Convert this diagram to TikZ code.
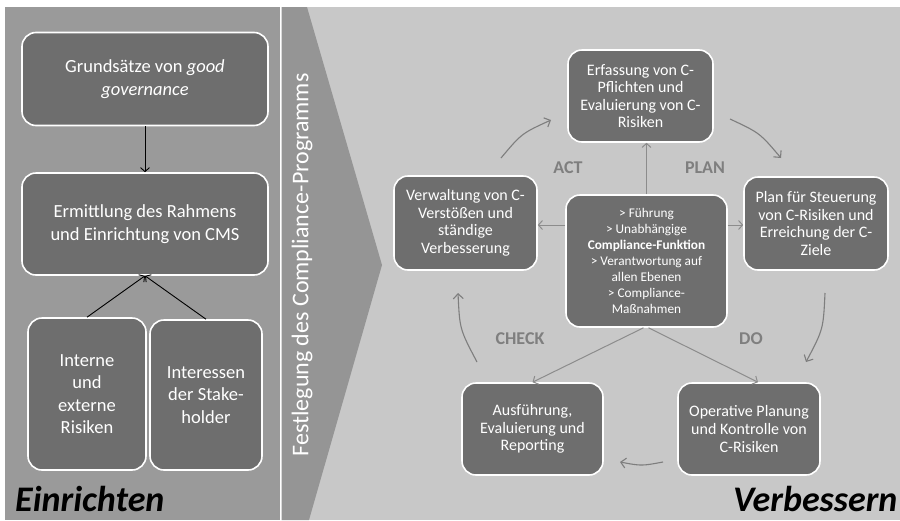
\documentclass[tikz,border=0pt]{standalone}
\usepackage{fontspec}
\setmainfont{Carlito}
\usetikzlibrary{arrows.meta}
\definecolor{panelgray}{HTML}{9A9A9A}
\definecolor{chevgray}{HTML}{959595}
\definecolor{bggray}{HTML}{C8C8C8}
\definecolor{boxgray}{HTML}{6E6E6E}
\definecolor{linkgray}{HTML}{8C8C8C}
\definecolor{cyclegray}{HTML}{7E7E7E}
\definecolor{labelgray}{HTML}{7F7F7F}
\tikzset{
  box/.style={draw=white, line width=1.6pt, fill=boxgray, rounded corners=14pt,
    text=white, align=center, inner sep=0pt},
  bigtxt/.style={font=\fontsize{18.5}{22.5}\selectfont},
  midtxt/.style={font=\fontsize{16}{17.6}\selectfont},
  smalltxt/.style={font=\fontsize{13.3}{16}\selectfont},
  blackarrow/.style={draw=black, line width=0.9pt, -{Straight Barb[length=4pt,width=9pt]}},
  linkarrow/.style={draw=linkgray, line width=1pt, -{Straight Barb[length=4pt,width=9pt]}},
  cyclearrow/.style={draw=cyclegray, line width=1.1pt, -{Straight Barb[length=5pt,width=10pt]}},
  pdcalabel/.style={text=labelgray, font=\fontsize{18}{20}\selectfont\bfseries},
  heading/.style={text=black, font=\fontsize{36}{40}\selectfont\bfseries\itshape}
}
\begin{document}
\begin{tikzpicture}[x=1pt,y=-1pt]
\useasboundingbox (0,0) rectangle (900,520);
% backgrounds
\fill[white] (0,0) rectangle (900,520);
\fill[bggray] (300,7) rectangle (900,520);
\fill[panelgray] (5,7) rectangle (280,520);
\fill[chevgray] (281.5,7) -- (307,7) -- (382,265) -- (309,520) -- (281.5,520) -- cycle;
\draw[white, line width=1.3pt] (280.5,7) -- (280.5,520);

% left panel
\node[box, bigtxt, minimum width=246pt, minimum height=93pt] (gov) at (145,79)
  {Grundsätze von \textit{good}\\\textit{governance}};
\node[box, bigtxt, minimum width=246pt, minimum height=102pt] (cms) at (145,224)
  {Ermittlung des Rahmens\\und Einrichtung von CMS};
\node[box, bigtxt, minimum width=118pt, minimum height=152pt] (risk) at (87,394)
  {Interne\\und\\externe\\Risiken};
\node[box, bigtxt, minimum width=112pt, minimum height=150pt] (stake) at (206,395)
  {Interessen\\der Stake-\\holder};
\draw[blackarrow] (gov.south) -- (cms.north);
\draw[blackarrow] (risk.north) -- (cms.south);
\draw[blackarrow] (stake.north) -- (cms.south);

\node[text=white, rotate=90, font=\fontsize{24}{26}\selectfont] (festl) at (302,265)
  {Festlegung des Compliance-Programms};

% right panel
\node[box, midtxt, minimum width=145pt, minimum height=92pt] (plantop) at (640.5,96)
  {Erfassung von C-\\Pflichten und\\Evaluierung von C-\\Risiken};
\node[box, midtxt, minimum width=143pt, minimum height=94pt] (act) at (465.5,223)
  {Verwaltung von C-\\Verstößen und\\ständige\\Verbesserung};
\node[box, midtxt, minimum width=144pt, minimum height=93pt] (plan) at (816,223.5)
  {Plan für Steuerung\\von C-Risiken und\\Erreichung der C-\\Ziele};
\node[box, smalltxt, minimum width=161pt, minimum height=132pt] (core) at (646.5,261)
  {> Führung\\> Unabhängige\\\textbf{Compliance-Funktion}\\> Verantwortung auf\\allen Ebenen\\> Compliance-\\Maßnahmen};
\node[box, midtxt, minimum width=141pt, minimum height=92pt] (check) at (532.5,429)
  {Ausführung,\\Evaluierung und\\Reporting};
\node[box, midtxt, minimum width=142pt, minimum height=92pt] (do) at (749,429)
  {Operative Planung\\und Kontrolle von\\C-Risiken};

\draw[linkarrow] (core.north) -- (core.north |- plantop.south);
\draw[linkarrow] ([yshift=36pt]core.west) -- ([yshift=36pt]core.west -| act.east);
\draw[linkarrow] ([yshift=36pt]core.east) -- ([yshift=36pt]core.east -| plan.west);
\draw[linkarrow] ([xshift=-3pt]core.south) -- (check.north);
\draw[linkarrow] ([xshift=2pt]core.south) -- ([xshift=9pt]do.north);

% PDCA cycle arrows
\coordinate (c1a) at (501,158); \coordinate (c1b) at (551,120);
\coordinate (c2a) at (730,119); \coordinate (c2b) at (781,158);
\coordinate (c3a) at (825,293); \coordinate (c3b) at (806,362);
\coordinate (c4a) at (663,462); \coordinate (c4b) at (620,462);
\coordinate (c5a) at (477,362); \coordinate (c5b) at (458,293);
\draw[cyclearrow] (c1a) .. controls (521.7,133.4) .. (c1b);
\draw[cyclearrow] (c2a) .. controls (759.7,132.9) .. (c2b);
\draw[cyclearrow] (c3a) .. controls (823.3,329.2) .. (c3b);
\draw[cyclearrow] (c4a) .. controls (641.5,466) .. (c4b);
\draw[cyclearrow] (c5a) .. controls (459.7,329.2) .. (c5b);

\node[pdcalabel] (lact) at (568,168) {ACT};
\node[pdcalabel] (lplan) at (705,168) {PLAN};
\node[pdcalabel] (lcheck) at (520,339) {CHECK};
\node[pdcalabel] (ldo) at (751,339) {DO};

\node[heading, anchor=base west, inner sep=0pt] (einr) at (15,511) {Einrichten};
\node[heading, anchor=base west, inner sep=0pt] (verb) at (733,511) {Verbessern};
\end{tikzpicture}
\end{document}
